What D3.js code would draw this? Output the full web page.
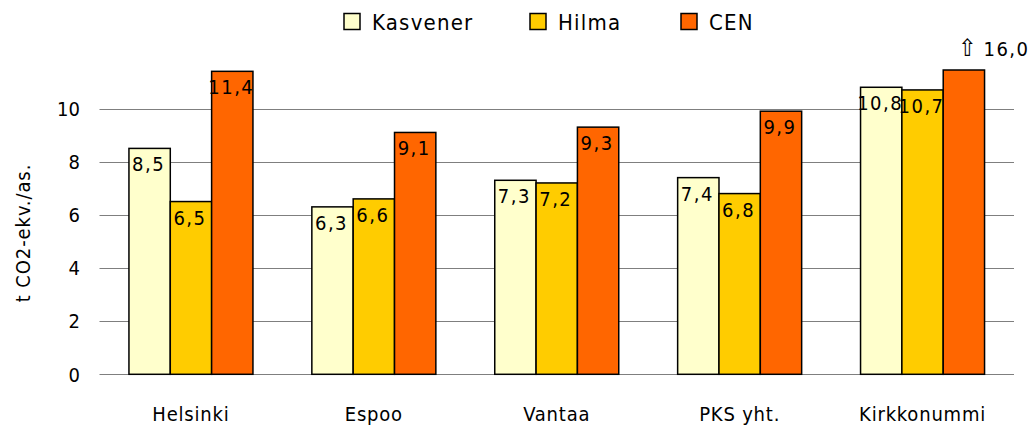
<!DOCTYPE html>
<html>
<head>
<meta charset="utf-8">
<script src="https://cdn.jsdelivr.net/npm/d3@7"></script>
<style>
  body { margin: 0; background: #fff; }
  svg { display: block; font-family: "DejaVu Sans Condensed", "DejaVu Sans", sans-serif; font-stretch: condensed; }
</style>
</head>
<body>
<svg id="chart" width="1034" height="425"></svg>
<script>
const categories = ["Helsinki", "Espoo", "Vantaa", "PKS yht.", "Kirkkonummi"]
const seriesNames = ["Kasvener", "Hilma", "CEN"]
const kasvener = [8.5, 6.3, 7.3, 7.4, 10.8]
const hilma = [6.5, 6.6, 7.2, 6.8, 10.7]
const cen = [11.4, 9.1, 9.3, 9.9, 16.0]
const yTicks = [0, 2, 4, 6, 8, 10]
const colors = ["#ffffcc", "#ffcc00", "#ff6600"]

const values = [kasvener, hilma, cen]
const fmt = v => d3.format(".1f")(v).replace(".", ",")

const svg = d3.select("#chart")
const margin = {left: 99.5, right: 20, top: 70, bottom: 50.7}
const width = 1034, height = 425

const x = d3.scaleBand()
  .domain(categories)
  .range([margin.left, width - margin.right])
  .paddingInner(0.322)
  .paddingOuter(0.161)

const xs = d3.scaleBand()
  .domain(seriesNames)
  .range([0, x.bandwidth()])

const y = d3.scaleLinear()
  .domain([0, 11.45])
  .range([height - margin.bottom, margin.top])
  .clamp(true)

// grid lines
svg.append("g")
  .selectAll("line")
  .data(yTicks)
  .join("line")
    .attr("x1", margin.left)
    .attr("x2", width - margin.right)
    .attr("y1", d => Math.round(y(d)) + 0.5)
    .attr("y2", d => Math.round(y(d)) + 0.5)
    .attr("stroke", "#7f7f7f")
    .attr("stroke-width", 1.2)

// y tick labels
svg.append("g")
  .selectAll("text")
  .data(yTicks)
  .join("text")
    .attr("x", 80)
    .attr("y", d => y(d))
    .attr("dy", "0.36em")
    .attr("text-anchor", "end")
    .attr("font-size", 20)
    .text(d => d)

svg.append("text")
  .attr("transform", "translate(30," + 233 + ") rotate(-90)")
  .attr("text-anchor", "middle")
  .attr("font-size", 20)
  .attr("letter-spacing", 0.9)
  .text("t CO2-ekv./as.")

// bars
const rows = []
categories.forEach((c, i) => {
  seriesNames.forEach((s, j) => {
    rows.push({cat: c, series: s, value: values[j][i], color: colors[j]})
  })
})

const bars = svg.append("g")
bars.selectAll("rect")
  .data(rows)
  .join("rect")
    .attr("x", d => x(d.cat) + xs(d.series))
    .attr("y", d => y(d.value))
    .attr("width", xs.bandwidth())
    .attr("height", d => y(0) - y(d.value))
    .attr("fill", d => d.color)
    .attr("stroke", "#000")
    .attr("stroke-width", 1.5)

// value labels; bars cut off at the top get an arrow label above the plot
const yMax = y.domain()[1]
const labels = svg.append("g")
  .selectAll("text")
  .data(rows)
  .join("text")
    .attr("x", d => d.value > yMax
      ? x(d.cat) + xs(d.series) + xs.bandwidth() / 2 - 6
      : x(d.cat) + xs(d.series) + xs.bandwidth() / 2 - 1)
    .attr("y", d => d.value > yMax ? margin.top - 14 : y(d.value) + 23)
    .attr("text-anchor", d => d.value > yMax ? "start" : "middle")
    .attr("font-size", 20)
    .attr("letter-spacing", 1.5)

labels.filter(d => d.value > yMax)
  .append("tspan")
    .attr("font-size", 24)
    .text("\u21e7")
labels.append("tspan")
  .attr("dx", d => d.value > yMax ? 6 : 0)
  .text(d => fmt(d.value))

// x labels
svg.append("g")
  .selectAll("text")
  .data(categories)
  .join("text")
    .attr("x", d => x(d) + x.bandwidth() / 2)
    .attr("y", 421)
    .attr("text-anchor", "middle")
    .attr("font-size", 20)
    .attr("letter-spacing", 0.8)
    .text(d => d)

// legend
const legendX = [344, 530, 681]
const legend = svg.append("g")
  .selectAll("g")
  .data(seriesNames)
  .join("g")
    .attr("transform", (d, i) => "translate(" + legendX[i] + ",13.5)")
legend.append("rect")
  .attr("width", 16)
  .attr("height", 16)
  .attr("fill", (d, i) => colors[i])
  .attr("stroke", "#000")
  .attr("stroke-width", 1.5)
legend.append("text")
  .attr("x", 28)
  .attr("y", 16)
  .attr("font-size", 22)
  .attr("letter-spacing", 1.2)
  .text(d => d)
</script>
</body>
</html>
